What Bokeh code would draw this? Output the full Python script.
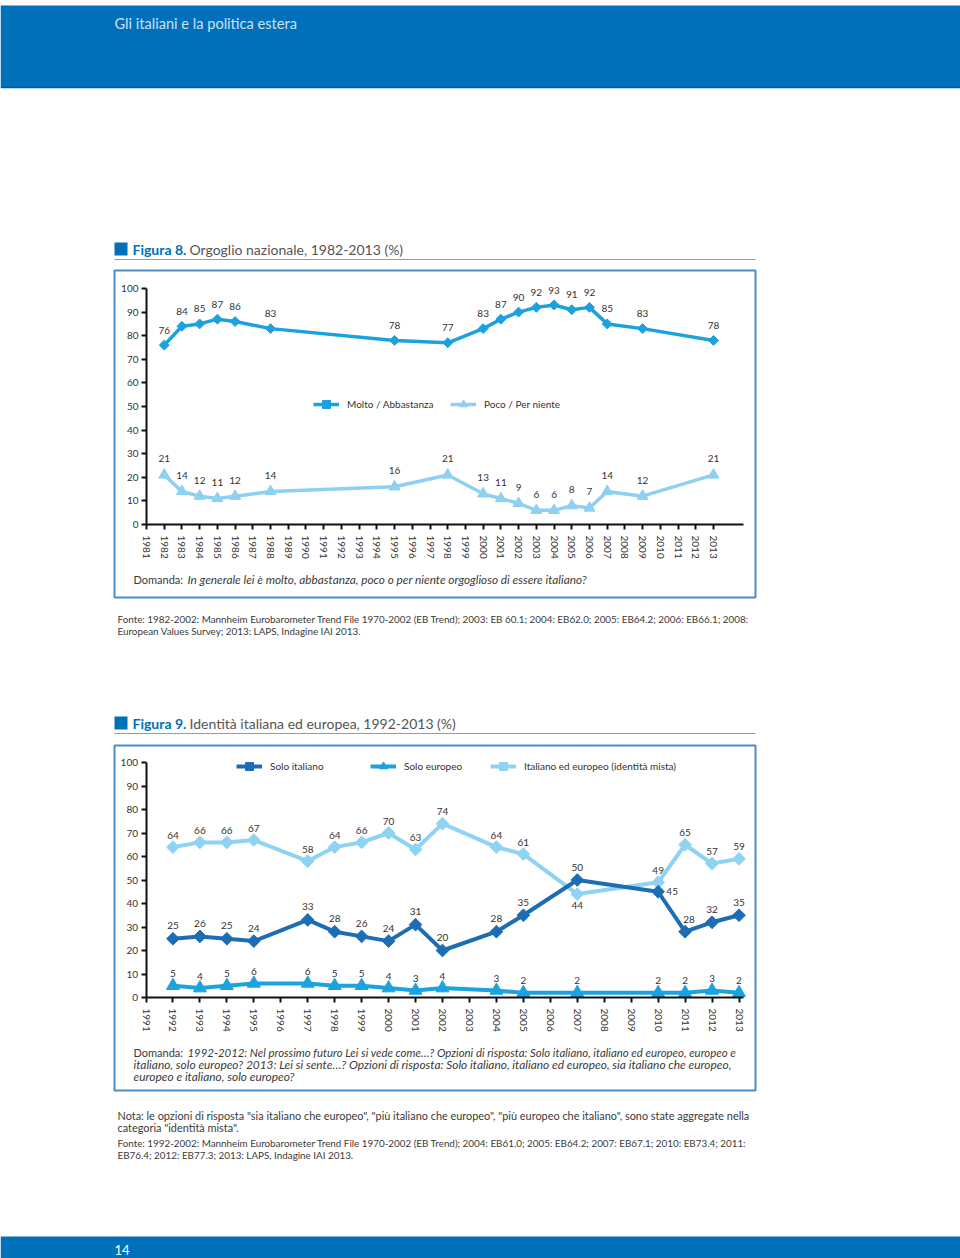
import numpy as np
from bokeh.plotting import figure
from bokeh.models import (Range1d, LinearAxis, FixedTicker, ColumnDataSource,
                          Legend, LegendItem, Label)
from bokeh.core.properties import value
from bokeh.embed import file_html
from bokeh.resources import INLINE

# ---------------- Figura 8: Orgoglio nazionale, 1982-2013 (%) ----------------
years8 = [1982, 1983, 1984, 1985, 1986, 1988, 1995, 1998, 2000, 2001, 2002,
          2003, 2004, 2005, 2006, 2007, 2009, 2013]
molto8 = [76, 84, 85, 87, 86, 83, 78, 77, 83, 87, 90, 92, 93, 91, 92, 85, 83, 78]
poco8 = [21, 14, 12, 11, 12, 14, 16, 21, 13, 11, 9, 6, 6, 8, 7, 14, 12, 21]
ticks8 = list(range(1981, 2014))

# ---------------- Figura 9: Identità italiana ed europea, 1992-2013 (%) -------
years9 = [1992, 1993, 1994, 1995, 1997, 1998, 1999, 2000, 2001, 2002, 2004,
          2005, 2007, 2010, 2011, 2012, 2013]
solo_it9 = [25, 26, 25, 24, 33, 28, 26, 24, 31, 20, 28, 35, 50, 45, 28, 32, 35]
solo_eu9 = [5, 4, 5, 6, 6, 5, 5, 4, 3, 4, 3, 2, 2, 2, 2, 3, 2]
mista9 = [64, 66, 66, 67, 58, 64, 66, 70, 63, 74, 64, 61, 44, 49, 65, 57, 59]
ticks9 = list(range(1991, 2014))

yticks = list(range(0, 101, 10))

FONT = "Lato"
C_HEAD = "#0070BA"
C_BOX = "#4A8CC6"
C_MOLTO = "#1BA1DE"
C_POCO = "#8DD0F0"
C_IT = "#1C6DB4"
C_EU = "#1AA3DF"
C_MIX = "#8ED3F2"
C_TXT = "#3a3a3a"

W, H, M = 960, 1258, 0


def page_range(v0, p0, v1, p1, lo, hi):
    k = (p1 - p0) / (v1 - v0)
    return Range1d(v0 + (lo - p0) / k, v0 + (hi - p0) / k)


p = figure(width=W, height=H, x_range=Range1d(M, M + W), y_range=Range1d(M + H, M),
           output_backend="svg", toolbar_location=None, title=None,
           x_axis_location=None, y_axis_location=None, min_border=0,
           outline_line_color=None, background_fill_color="white",
           border_fill_color="white")
p.grid.visible = False

p.extra_x_ranges = {"x8": page_range(1981, 146, 2013, 713, M, M + W),
                    "x9": page_range(1991, 145.5, 2013, 738.5, M, M + W)}
p.extra_y_ranges = {"y8": page_range(0, 524, 100, 288, M + H, M),
                    "y9": page_range(0, 997, 100, 762, M + H, M)}


def label(x, y, text, size="10px", color=C_TXT, style="normal", align="left"):
    p.add_layout(Label(x=x, y=y, text=text, text_font=FONT, text_font_size=size,
                       text_color=color, text_font_style=style, text_align=align,
                       text_baseline="middle"))


# ---------------- page decorations ----------------
p.quad(left=[0], right=[960], top=[5], bottom=[87], fill_color=C_HEAD, line_color=None)
p.segment(x0=[0], x1=[960], y0=[87], y1=[87], line_color="#005C9A", line_width=1.5)
label(114, 23, "Gli italiani e la politica estera", size="14.6px", color="#cfe0f1")
p.quad(left=[0], right=[960], top=[1236], bottom=[1262], fill_color=C_HEAD, line_color=None)
label(114, 1249, "14", size="13px", color="white")

for (ty, num, title, box_top, box_bot) in [
        (249, "Figura 8.", "Orgoglio nazionale, 1982-2013 (%)", 270, 597),
        (723, "Figura 9.", "Identità italiana ed europea, 1992-2013 (%)", 745, 1090)]:
    p.quad(left=[114], right=[127], top=[ty - 7], bottom=[ty + 6], fill_color=C_HEAD, line_color=None)
    label(132, ty, num, size="14px", color=C_HEAD, style="bold")
    label(189, ty, title, size="14px", color="#555555")
    p.segment(x0=[114], x1=[755], y0=[ty + 10], y1=[ty + 10], line_color="#9a9a9a", line_width=1)
    p.quad(left=[114], right=[755], top=[box_top], bottom=[box_bot], fill_color=None,
           line_color=C_BOX, line_width=2)

# texts under / in boxes
label(133, 579, "Domanda:", size="11px")
label(187, 579, "In generale lei è molto, abbastanza, poco o per niente orgoglioso di essere italiano?",
      size="11.8px", style="italic")
label(117, 618, "Fonte: 1982-2002: Mannheim Eurobarometer Trend File 1970-2002 (EB Trend); 2003: EB 60.1; 2004: EB62.0; 2005: EB64.2; 2006: EB66.1; 2008:",
      size="9.85px")
label(117, 630, "European Values Survey; 2013: LAPS, Indagine IAI 2013.", size="9.85px")

label(133, 1052, "Domanda:", size="11px")
label(187, 1052, "1992-2012: Nel prossimo futuro Lei si vede come…? Opzioni di risposta: Solo italiano, italiano ed europeo, europeo e",
      size="11.4px", style="italic")
label(133, 1064, "italiano, solo europeo? 2013: Lei si sente…? Opzioni di risposta: Solo italiano, italiano ed europeo, sia italiano che europeo,",
      size="11.9px", style="italic")
label(133, 1076, "europeo e italiano, solo europeo?", size="11.9px", style="italic")
label(117, 1115, "Nota: le opzioni di risposta \"sia italiano che europeo\", \"più italiano che europeo\", \"più europeo che italiano\", sono state aggregate nella",
      size="10.9px")
label(117, 1127, "categoria \"identità mista\".", size="10.9px")
label(117, 1142, "Fonte: 1992-2002: Mannheim Eurobarometer Trend File 1970-2002 (EB Trend); 2004: EB61.0; 2005: EB64.2; 2007: EB67.1; 2010: EB73.4; 2011:",
      size="9.85px")
label(117, 1154, "EB76.4; 2012: EB77.3; 2013: LAPS, Indagine IAI 2013.", size="9.85px")


# ---------------- axes ----------------
def axes(xr, yr, ticks, x_end):
    common = dict(x_range_name=xr, y_range_name=yr, axis_line_width=2,
                  axis_line_color="#111111", major_tick_line_width=2,
                  major_tick_line_color="#111111", major_tick_in=0, major_tick_out=5,
                  minor_tick_line_color=None, major_label_text_font=FONT,
                  major_label_text_font_size="10px", major_label_text_color="#333333")
    ya = LinearAxis(fixed_location=ticks[0], bounds=(0, 100),
                    ticker=FixedTicker(ticks=yticks), major_label_standoff=3, **common)
    xa = LinearAxis(fixed_location=0, bounds=(ticks[0], x_end),
                    ticker=FixedTicker(ticks=ticks), major_label_orientation="vertical",
                    major_label_standoff=6, **common)
    p.add_layout(ya, "left")
    p.add_layout(xa, "below")


axes("x8", "y8", ticks8, 2014.7)
axes("x9", "y9", ticks9, 2013.15)


def legend(text, renderers, gx, gy):
    lg = Legend(items=[LegendItem(label=value(text), renderers=renderers)],
                location=(gx - M, (M + H) - gy - 10), orientation="horizontal",
                padding=0, margin=0, glyph_width=26, glyph_height=20, label_height=20,
                label_standoff=8, border_line_color=None, background_fill_alpha=0,
                label_text_font=FONT, label_text_font_size="10px",
                label_text_color="#333333")
    p.add_layout(lg)


def series(src, ycol, xr, yr, color, marker, msize, lw, angle=0.0):
    r_line = p.line("year", ycol, source=src, x_range_name=xr, y_range_name=yr,
                    line_color=color, line_width=lw)
    r_pts = p.scatter("year", ycol, source=src, x_range_name=xr, y_range_name=yr,
                      marker=marker, size=msize, angle=angle, fill_color=color,
                      line_color=color)
    return [r_line, r_pts]


def values_text(src, ycol, tcol, dxcol, dycol, xr, yr):
    p.text(x="year", y=ycol, text=tcol, source=src, x_range_name=xr, y_range_name=yr,
           x_offset=dxcol, y_offset=dycol, text_align="center", text_baseline="middle",
           text_font=value(FONT), text_font_size="10px", text_color="#333333")


# ---------------- Figura 8 chart ----------------
s8 = ColumnDataSource(dict(
    year=years8, molto=molto8, poco=poco8,
    t_molto=[str(v) for v in molto8], t_poco=[str(v) for v in poco8],
    dx=[0] * len(years8), dy_m=[-15] * len(years8), dy_p=[-16] * len(years8)))

r_molto = series(s8, "molto", "x8", "y8", C_MOLTO, "square", 7, 3.5, np.pi / 4)
r_poco = series(s8, "poco", "x8", "y8", C_POCO, "triangle", 11, 3.5)
values_text(s8, "molto", "t_molto", "dx", "dy_m", "x8", "y8")
values_text(s8, "poco", "t_poco", "dx", "dy_p", "x8", "y8")
legend("Molto / Abbastanza", r_molto, 313, 404)
legend("Poco / Per niente", r_poco, 450, 404)

# ---------------- Figura 9 chart ----------------
exc_it = {2010: (14, 0), 2011: (4, -12)}
exc_mix = {2007: (0, 11)}
s9 = ColumnDataSource(dict(
    year=years9, it=solo_it9, eu=solo_eu9, mix=mista9,
    t_it=[str(v) for v in solo_it9], t_eu=[str(v) for v in solo_eu9],
    t_mix=[str(v) for v in mista9],
    dx_it=[exc_it.get(y, (0, -13))[0] for y in years9],
    dy_it=[exc_it.get(y, (0, -13))[1] for y in years9],
    dx_mix=[exc_mix.get(y, (0, -12))[0] for y in years9],
    dy_mix=[exc_mix.get(y, (0, -12))[1] for y in years9],
    dx_eu=[0] * len(years9), dy_eu=[-12] * len(years9)))

r_mix = series(s9, "mix", "x9", "y9", C_MIX, "square", 9, 4, np.pi / 4)
r_eu = series(s9, "eu", "x9", "y9", C_EU, "triangle", 13, 4)
r_it = series(s9, "it", "x9", "y9", C_IT, "square", 9, 4, np.pi / 4)
values_text(s9, "mix", "t_mix", "dx_mix", "dy_mix", "x9", "y9")
values_text(s9, "eu", "t_eu", "dx_eu", "dy_eu", "x9", "y9")
values_text(s9, "it", "t_it", "dx_it", "dy_it", "x9", "y9")
legend("Solo italiano", r_it, 236, 766)
legend("Solo europeo", r_eu, 370, 766)
legend("Italiano ed europeo (identità mista)", r_mix, 490, 766)

open("out.html", "w").write(file_html(p, INLINE))
